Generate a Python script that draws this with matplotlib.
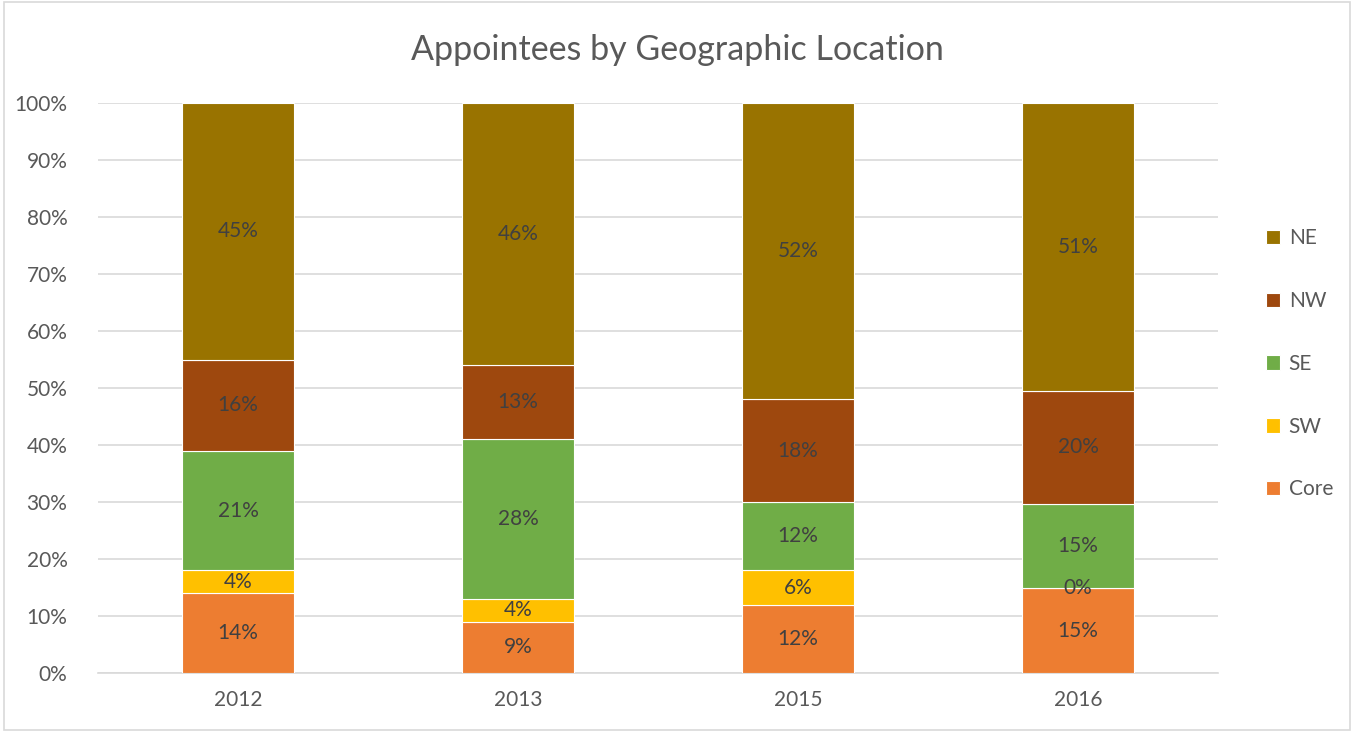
import matplotlib.pyplot as plt
import numpy as np

plt.rcParams["font.family"] = ["Lato", "DejaVu Sans"]

YEARS = ["2012", "2013", "2015", "2016"]
SERIES = ["Core", "SW", "SE", "NW", "NE"]
CORE = [14, 9, 12, 15]
SW = [4, 4, 6, 0]
SE = [21, 28, 12, 15]
NW = [16, 13, 18, 20]
NE = [45, 46, 52, 51]
COLORS = ["#ED7D31", "#FFC000", "#70AD47", "#9E480E", "#997300"]

TXT = "#595959"

fig = plt.figure(figsize=(13.54, 7.32), dpi=100)
ax = fig.add_axes([0.0724, 0.0806, 0.8272, 0.7785])

vals = np.array([CORE, SW, SE, NW, NE], dtype=float)
pct = vals / vals.sum(axis=0) * 100
xs = np.arange(len(YEARS))
bottom = np.zeros(len(YEARS))
for name, raw, p, c in zip(SERIES, vals, pct, COLORS):
    ax.bar(xs, p, width=0.4, bottom=bottom, color=c, label=name,
           edgecolor="white", linewidth=0.8, zorder=3)
    for x, b, h, r in zip(xs, bottom, p, raw):
        ax.text(x, b + h / 2, f"{r:.0f}%", ha="center", va="center",
                fontsize=15, color="#404040", zorder=4)
    bottom += p

ax.set_xlim(-0.5, 3.5)
ax.set_ylim(0, 100)
ax.set_yticks(np.arange(0, 101, 10))
ax.set_yticklabels([f"{v}%" for v in range(0, 101, 10)])
ax.set_xticks(xs)
ax.set_xticklabels(YEARS)
ax.tick_params(axis="both", length=0, labelsize=15, labelcolor=TXT)
ax.tick_params(axis="y", pad=22)
ax.tick_params(axis="x", pad=12)
ax.grid(axis="y", color="#D9D9D9", lw=1.2, zorder=0)
for s in ["top", "right", "left"]:
    ax.spines[s].set_visible(False)
ax.spines["bottom"].set_color("#D9D9D9")
ax.spines["bottom"].set_linewidth(1.2)

fig.text(0.500, 0.932, "Appointees by Geographic Location", ha="center",
         va="center", fontsize=24.5, color=TXT)

handles, labels = ax.get_legend_handles_labels()
fig.legend(handles[::-1], labels[::-1], loc="center left",
           bbox_to_anchor=(0.921, 0.503), frameon=False, fontsize=15,
           labelcolor=TXT, handlelength=0.7, handleheight=0.7,
           handletextpad=0.4, labelspacing=2.05)

fig.add_artist(plt.Rectangle((0.003, 0.003), 0.994, 0.994, transform=fig.transFigure,
                             fill=False, edgecolor="#D9D9D9", lw=1.2))

fig.savefig("out.png", dpi=100)
